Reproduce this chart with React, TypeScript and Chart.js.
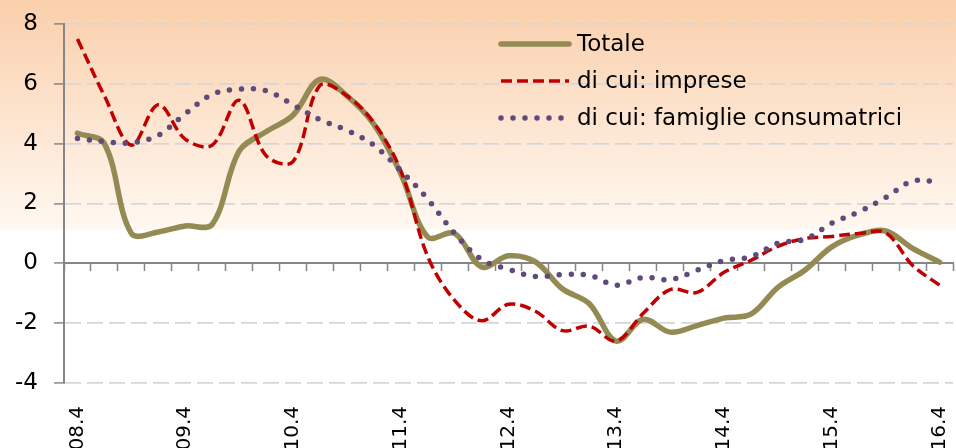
import React, { useEffect, useRef } from 'react';
import { Chart, registerables } from 'chart.js';

Chart.register(...registerables);

// ---- data ----
const categories = [
  '08.4',
  '09.1', '09.2', '09.3', '09.4',
  '10.1', '10.2', '10.3', '10.4',
  '11.1', '11.2', '11.3', '11.4',
  '12.1', '12.2', '12.3', '12.4',
  '13.1', '13.2', '13.3', '13.4',
  '14.1', '14.2', '14.3', '14.4',
  '15.1', '15.2', '15.3', '15.4',
  '16.1', '16.2', '16.3', '16.4',
];

const totale = [
  4.35, 4.0, 1.0, 1.05, 1.25, 1.3, 3.75, 4.4, 4.95, 6.15, 5.6, 4.65, 3.0,
  0.88, 1.0, -0.12, 0.25, 0.05, -0.85, -1.35, -2.6, -1.87, -2.3, -2.08,
  -1.83, -1.7, -0.8, -0.23, 0.55, 0.95, 1.08, 0.5, 0.04,
];

const imprese = [
  7.5, 5.6, 3.95, 5.3, 4.15, 3.95, 5.45, 3.6, 3.4, 5.95, 5.6, 4.7, 3.1,
  0.23, -1.24, -1.92, -1.37, -1.6, -2.25, -2.1, -2.6, -1.67, -0.88, -0.97,
  -0.3, 0.1, 0.57, 0.83, 0.9, 1.0, 1.02, -0.07, -0.73,
];

const famiglie = [
  4.17, 4.07, 4.03, 4.28, 5.0, 5.65, 5.82, 5.77, 5.3, 4.8, 4.45, 3.95, 3.1,
  2.15, 1.0, 0.13, -0.2, -0.44, -0.38, -0.4, -0.73, -0.47, -0.55, -0.23,
  0.09, 0.22, 0.67, 0.8, 1.34, 1.72, 2.2, 2.75, 2.72,
];

const seriesNames = ['Totale', 'di cui: imprese', 'di cui: famiglie consumatrici'];

const yMin = -4;
const yMax = 8;
const yStep = 2;

// ---- styles ----
const FONT = '"DejaVu Sans", Verdana, sans-serif';
const AXIS_GRAY = '#868686';
const GRID_GRAY = '#d6d6d6';

const styles = [
  { color: '#948A54', width: 5.5, dash: [] as number[], cap: 'round' as CanvasLineCap },
  { color: '#C00000', width: 3.5, dash: [11, 5], cap: 'butt' as CanvasLineCap },
  { color: '#604A7B', width: 5.5, dash: [0, 12], cap: 'round' as CanvasLineCap },
];

const legendPlugin = {
  id: 'customLegend',
  afterDatasetsDraw(chart: any) {
    const ctx: CanvasRenderingContext2D = chart.ctx;
    const rowY = [44, 81, 118];
    const x1 = 501;
    const x2 = 569;
    const textX = 577;
    ctx.save();
    seriesNames.forEach((name, i) => {
      const s = styles[i];
      ctx.beginPath();
      ctx.strokeStyle = s.color;
      ctx.lineWidth = s.width;
      ctx.lineCap = s.cap;
      ctx.setLineDash(s.dash);
      ctx.moveTo(x1, rowY[i]);
      ctx.lineTo(x2, rowY[i]);
      ctx.stroke();
      ctx.setLineDash([]);
      ctx.fillStyle = '#000000';
      ctx.font = `23px ${FONT}`;
      ctx.textAlign = 'left';
      ctx.textBaseline = 'middle';
      ctx.fillText(name, textX, rowY[i] + 1);
    });
    ctx.restore();
  },
};

export default function App() {
  const canvasRef = useRef<HTMLCanvasElement | null>(null);

  useEffect(() => {
    if (!canvasRef.current) return;
    const series = [totale, imprese, famiglie];
    const chart = new Chart(canvasRef.current, {
      type: 'line',
      data: {
        labels: categories,
        datasets: series.map((data, i) => ({
          label: seriesNames[i],
          data,
          borderColor: styles[i].color,
          backgroundColor: styles[i].color,
          borderWidth: styles[i].width,
          borderDash: styles[i].dash,
          borderCapStyle: styles[i].cap,
          borderJoinStyle: 'round',
          tension: 0.35,
          pointRadius: 0,
          pointHoverRadius: 0,
          fill: false,
          order: 3 - i,
          xAxisID: 'x',
          yAxisID: 'y',
        })),
      },
      options: {
        responsive: true,
        maintainAspectRatio: false,
        animation: false,
        events: [],
        layout: { padding: { top: 24, right: 3, left: 0, bottom: 0 } },
        plugins: {
          legend: { display: false },
          tooltip: { enabled: false },
        },
        scales: {
          x: {
            type: 'category',
            position: 'bottom',
            offset: true,
            grid: { display: false },
            border: { display: false },
            ticks: {
              autoSkip: false,
              minRotation: 90,
              maxRotation: 90,
              padding: 15,
              color: '#000000',
              font: { family: FONT, size: 20 },
              callback: (_v: any, i: number) => (i % 4 === 0 ? categories[i] : ''),
            },
            afterFit: (s: any) => {
              s.height = 65;
              s.paddingLeft = 0;
              s.paddingRight = 0;
            },
          },
          x0: {
            type: 'category',
            axis: 'x',
            position: { y: 0 },
            offset: true,
            grid: {
              display: true,
              offset: true,
              drawOnChartArea: false,
              drawTicks: true,
              tickLength: 7,
              color: AXIS_GRAY,
              tickColor: AXIS_GRAY,
              tickWidth: 1.5,
            },
            border: { display: true, color: AXIS_GRAY, width: 2 },
            ticks: { display: false },
            afterFit: (s: any) => {
              s.paddingLeft = 0;
              s.paddingRight = 0;
              s.paddingTop = 0;
              s.paddingBottom = 0;
            },
          },
          y: {
            type: 'linear',
            position: 'left',
            min: yMin,
            max: yMax,
            ticks: {
              stepSize: yStep,
              padding: 16,
              color: '#000000',
              font: { family: FONT, size: 23 },
            },
            grid: {
              color: (c: any) => (c.tick && c.tick.value === 0 ? 'rgba(0,0,0,0)' : GRID_GRAY),
              lineWidth: 1.8,
              tickLength: 10,
              tickColor: AXIS_GRAY,
              tickWidth: 1.5,
            },
            border: { display: true, color: AXIS_GRAY, width: 2, dash: [16, 6] },
            afterFit: (s: any) => {
              s.width = 64;
              s.paddingTop = 0;
              s.paddingBottom = 0;
            },
          },
        },
      } as any,
      plugins: [legendPlugin],
    });
    return () => chart.destroy();
  }, []);

  return (
    <div
      style={{
        position: 'absolute',
        left: 0,
        top: 0,
        width: 956,
        height: 448,
        background:
          'linear-gradient(to bottom, #FACFAB 0px, #FFF8F1 229px, #FFFFFF 230px, #FFFFFF 448px)',
      }}
    >
      <canvas ref={canvasRef} />
    </div>
  );
}
